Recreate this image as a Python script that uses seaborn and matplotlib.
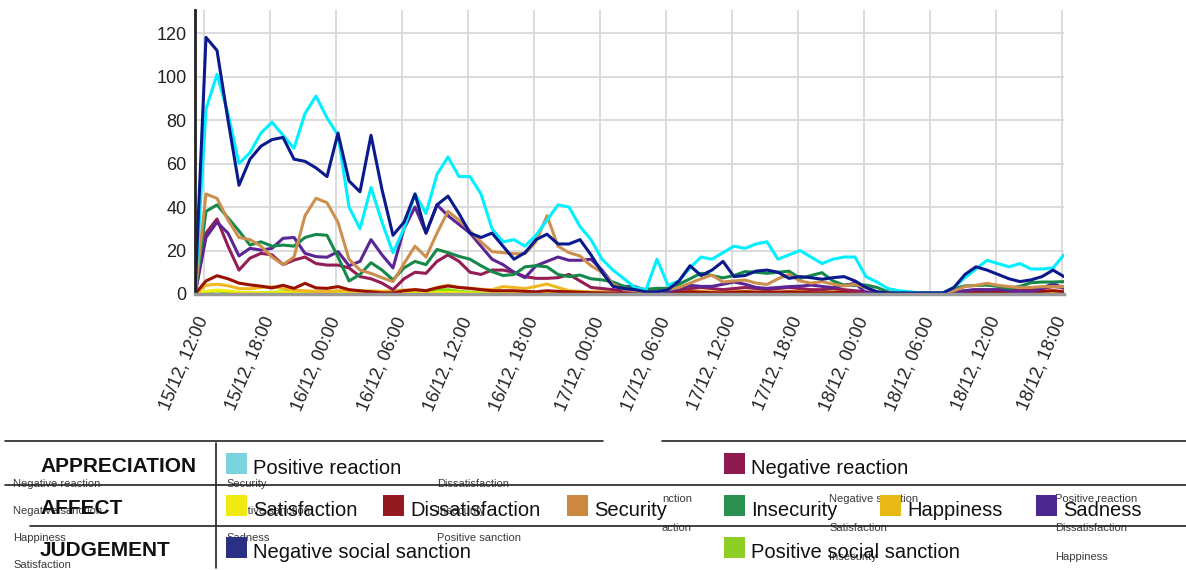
import pandas as pd
import seaborn as sns
import matplotlib.pyplot as plt
import matplotlib.dates as mdates
from matplotlib.lines import Line2D
from matplotlib.patches import Rectangle

W, H = 1186, 570

# hourly counts, first sample 15/12 11:12
times = pd.date_range('2015-12-15 11:12', periods=80, freq='h')

positive_reaction = [0, 85, 101, 83, 60, 65, 74, 79, 73, 67, 83, 91, 81, 73, 40, 30, 49, 33, 19, 30,
                     46, 37, 55, 63, 54, 54, 46, 30, 24, 25, 22, 27, 34, 41, 40, 31, 25, 16, 11, 7,
                     3, 2, 16, 4, 6, 12, 17, 16, 19, 22, 21, 23, 24, 16, 18, 20, 17, 14, 16, 17,
                     17, 8, 5.5, 2.5, 1.5, 1, 0.5, 0.5, 0.5, 3, 7.5, 11.5, 15.5, 14, 12.5, 14, 11.5, 11.5, 12, 18]
negative_social_sanction = [0, 118, 112, 80, 50, 62, 68, 71, 72, 62, 61, 58, 54, 74, 52, 47, 73, 48, 27, 33,
                            46, 28, 41, 45, 37, 28, 26, 28, 22, 16, 19, 25, 27.5, 23, 23, 25, 18, 10, 3.5, 2.5,
                            2, 1, 1, 2, 6, 13, 8.5, 11, 15, 8, 8.5, 10.5, 11, 10, 7.2, 8, 7.5, 6.8, 7.5, 8,
                            6, 3, 1, 0.5, 0.5, 0.5, 0.5, 0.5, 0.5, 3, 9, 12.5, 11, 9, 7, 5.7, 6.5, 8, 11, 8]
security = [0, 46, 44, 34, 26, 25, 22, 17, 13.5, 17, 36, 44, 42, 33, 16, 11, 9.5, 7.5, 5.7, 14,
            22, 17, 28, 38, 34, 29, 24, 19.5, 19, 18.5, 18.5, 24, 36, 22, 19, 17.5, 13, 10, 4.5, 2,
            1.5, 1, 1, 2, 3, 5, 7, 8.7, 5.5, 6, 6.4, 5, 4.4, 7, 9, 6, 5, 5.7, 4.5, 3.7,
            4.5, 3, 1, 0.5, 0.5, 0.5, 0.5, 0.5, 0.5, 1.5, 3.4, 4, 4.9, 4, 3.4, 3, 3, 3.4, 3.4, 3.4]
insecurity = [0, 38, 41, 35, 29, 22.5, 24, 22, 22.5, 22, 26, 27.4, 27, 17, 6, 9, 14.4, 11, 6.5, 12,
              15, 13.5, 20.5, 19, 17.3, 16, 13, 10.3, 8.5, 9, 12.5, 13, 12.5, 9, 8, 8.7, 7, 6.5, 5.5, 3.5,
              2, 2.2, 2.6, 2.6, 4.5, 7, 9.5, 8.5, 7.4, 8.5, 10.3, 10, 9.5, 10, 10.5, 7.2, 8.5, 9.8, 6, 4.1,
              4, 4.1, 3, 1, 0.5, 0.5, 0.5, 0.5, 0.5, 2.5, 3.7, 3.9, 4.1, 3.5, 2.6, 3.5, 5.2, 5.5, 5.5, 5.7]
negative_reaction = [0, 28, 34.5, 22, 11, 16.5, 18.7, 18, 13.5, 15.6, 17, 14, 13.3, 13.3, 12, 8, 7, 5, 2, 7,
                     10, 9.5, 15, 18, 15, 10, 9, 11, 11, 10, 8, 7.2, 7.2, 7.5, 9, 6, 3, 2.5, 2, 1.5,
                     1, 1, 1.5, 2, 2, 2.5, 3, 2.5, 2, 2.5, 3, 2.5, 2, 2.5, 3, 2.5, 2, 2, 2.5, 2,
                     1.5, 1, 0.5, 0.5, 0.5, 0.5, 0.5, 0.5, 0.5, 1, 1.5, 2, 2, 2, 2, 1.5, 2, 2.5, 3.4, 3]
sadness = [0, 26, 33, 28, 17.5, 21, 20.2, 21, 25.6, 26, 18.7, 17.2, 16.9, 19.5, 13, 15, 25, 18, 12, 30,
           40, 28, 41, 36, 32, 28, 22, 16, 13.5, 10, 7.5, 13, 15, 17, 15.5, 15.5, 16, 11, 4.5, 3.5,
           3.4, 1.5, 1, 1, 2.5, 4, 3.5, 3.5, 4.5, 5.5, 4.5, 3, 2.6, 3, 3.4, 3.6, 4.1, 3.5, 2.9, 4,
           4.9, 0.5, 0.3, 0.3, 0.3, 0.3, 0.3, 0.3, 0.3, 0.3, 1.5, 2, 1.8, 2, 1.5, 1, 1, 2.5, 4.9, 2.6]
dissatisfaction = [0, 6, 8.4, 7, 5, 4.2, 3.6, 2.8, 4, 2.6, 4.9, 2.8, 2.6, 3.4, 2, 1.5, 1, 0.5, 0.5, 1.5,
                   2, 1.5, 2.8, 3.7, 3, 2.6, 2, 1.5, 1.5, 1.5, 1.2, 1, 1.5, 1.2, 1, 0.8, 0.6, 0.5, 0.4, 0.4,
                   0.4, 0.5, 0.6, 0.5, 0.8, 1, 0.8, 0.6, 0.5, 0.8, 1, 0.8, 0.6, 0.8, 1, 0.8, 0.6, 0.5, 0.6, 0.8,
                   0.5, 0.3, 0.3, 0.3, 0.3, 0.3, 0.3, 0.3, 0.3, 0.5, 0.8, 1, 1, 0.8, 0.8, 0.8, 1, 1.2, 1.5, 1]
happiness = [0, 4, 4.5, 3.8, 2.5, 2.4, 3, 3.4, 2.5, 1.8, 1.5, 1.2, 1.2, 1.5, 1.5, 1.2, 1.5, 1.2, 1.5, 1.8,
             2, 1.5, 3, 4, 3, 2.5, 2.2, 2, 3.4, 3, 2.5, 3.5, 4.6, 3, 1.5, 1.2, 1, 1, 0.8, 0.8,
             0.8, 1, 1.2, 1, 1.2, 1.5, 1.2, 1, 1.2, 1.5, 1.2, 1, 1.2, 1, 1, 1.2, 1, 1, 1.2, 1,
             0.8, 0.5, 0.5, 0.5, 0.5, 0.5, 0.5, 0.5, 0.5, 0.8, 1, 1.2, 1.2, 1, 1, 1.2, 1, 1.2, 1.5, 1.2]
satisfaction = [0, 1.2, 1.8, 1.4, 0.8, 0.6, 0.5, 0.6, 0.8, 0.6, 0.5, 0.4, 0.4, 0.5, 0.4, 0.3, 0.4, 0.3, 0.3, 0.4,
                0.5, 0.4, 0.6, 0.8, 0.6, 0.4, 0.3, 0.3, 0.4, 0.5, 0.4, 0.5, 0.6, 0.5, 0.4, 0.3, 0.3, 0.3, 0.3, 0.3,
                0.3, 0.3, 0.4, 0.5, 0.4, 0.4, 0.5, 0.4, 0.3, 0.4, 0.5, 0.4, 0.3, 0.4, 0.4, 0.3, 0.3, 0.4, 0.3, 0.3,
                0.3, 0.2, 0.2, 0.2, 0.2, 0.2, 0.2, 0.2, 0.2, 0.3, 0.4, 0.4, 0.5, 0.4, 0.3, 0.4, 0.4, 0.5, 0.5, 0.4]
positive_social_sanction = [0, 0.8, 1.5, 0.8, 0.4, 0.3, 0.5, 0.8, 1, 1.2, 0.8, 0.5, 0.5, 0.4, 0.3, 0.3, 0.3, 0.3, 0.3, 0.5,
                            0.8, 1.2, 1.8, 2, 1.2, 0.8, 0.5, 0.4, 0.3, 0.3, 0.3, 0.3, 0.4, 0.3, 0.3, 0.3, 0.3, 0.3, 0.3, 0.3,
                            0.3, 0.4, 0.6, 0.4, 0.3, 0.3, 0.3, 0.3, 0.3, 0.3, 0.3, 0.3, 0.3, 0.3, 0.3, 0.3, 0.3, 0.3, 0.3, 0.3,
                            0.2, 0.2, 0.2, 0.2, 0.2, 0.2, 0.2, 0.2, 0.2, 0.3, 0.3, 0.3, 0.3, 0.3, 0.3, 0.3, 0.3, 0.3, 0.3, 0.3]

series = {
    'Positive social sanction': positive_social_sanction,
    'Satisfaction': satisfaction,
    'Happiness': happiness,
    'Dissatisfaction': dissatisfaction,
    'Negative reaction': negative_reaction,
    'Sadness': sadness,
    'Insecurity': insecurity,
    'Security': security,
    'Positive reaction': positive_reaction,
    'Negative social sanction': negative_social_sanction,
}
line_colors = {
    'Positive social sanction': '#80E000',
    'Satisfaction': '#F2F000',
    'Happiness': '#F0B820',
    'Dissatisfaction': '#9A1000',
    'Negative reaction': '#951D55',
    'Sadness': '#5B2595',
    'Insecurity': '#16884A',
    'Security': '#CD8F4E',
    'Positive reaction': '#00F0FF',
    'Negative social sanction': '#0A1A8C',
}
swatch_colors = {
    'Positive reaction': '#7AD3DE', 'Negative reaction': '#8F1A4F',
    'Satisfaction': '#EEEA12', 'Dissatisfaction': '#921A20', 'Security': '#CC8840',
    'Insecurity': '#2A9150', 'Happiness': '#E8B815', 'Sadness': '#4A2890',
    'Negative social sanction': '#2A3185', 'Positive social sanction': '#8DCF24',
}

df = pd.concat([pd.DataFrame({'time': times, 'count': v, 'category': k})
                for k, v in series.items()], ignore_index=True)

sns.set_style('white')
plt.rcParams['font.family'] = ['Liberation Sans', 'DejaVu Sans']

fig = plt.figure(figsize=(W / 100, H / 100), dpi=100)
ax = fig.add_axes([195 / W, 1 - 294 / H, (1064 - 195) / W, (294 - 10) / H])

sns.lineplot(data=df, x='time', y='count', hue='category', hue_order=list(series.keys()),
             palette=line_colors, linewidth=2.2, legend=False, ax=ax,
             solid_joinstyle='round', solid_capstyle='round')

ax.set_xlim(times[0], times[-1])
ax.set_ylim(0, 130.6)
ax.set_yticks(range(0, 121, 20))
ax.xaxis.set_major_locator(mdates.HourLocator(byhour=[0, 6, 12, 18]))
ax.xaxis.set_major_formatter(mdates.DateFormatter('%d/%m, %H:%M'))
ax.grid(True, color='#D6D6D6', linewidth=1.2)
ax.set_axisbelow(True)
ax.set_xlabel('')
ax.set_ylabel('')
ax.tick_params(axis='y', length=0, pad=6, labelsize=13, colors='#222222')
ax.tick_params(axis='x', length=0, pad=17, labelsize=13, colors='#222222')
for lab in ax.get_xticklabels():
    lab.set_rotation(67)
    lab.set_ha('right')
    lab.set_va('center')
    lab.set_rotation_mode('anchor')
for s in ['top', 'right']:
    ax.spines[s].set_visible(False)
ax.spines['left'].set_color('#222222')
ax.spines['left'].set_linewidth(2)
ax.spines['bottom'].set_color('#999999')
ax.spines['bottom'].set_linewidth(2.5)


def fx(x):
    return x / W


def fy(y):
    return 1 - y / H


def hline(x0, x1, y):
    fig.add_artist(Line2D([fx(x0), fx(x1)], [fy(y), fy(y)], color='#222222', lw=1.2))


# table frame of the legend
hline(5, 603, 441)
hline(662, 1186, 441)
hline(5, 1186, 485)
hline(30, 1186, 526)
fig.add_artist(Line2D([fx(216), fx(216)], [fy(443), fy(568)], color='#222222', lw=1.2))

# faint leftover labels behind the legend
ghost = [
    (13, 484, 'Negative reaction'), (226, 484, 'Security'), (437, 484, 'Dissatisfaction'),
    (13, 511, 'Negative sanction'), (226, 511, 'Positive sanction'), (437, 511, 'Insecurity'),
    (13, 538, 'Happiness'), (226, 538, 'Sadness'), (437, 538, 'Positive sanction'),
    (13, 565, 'Satisfaction'),
    (662, 499, 'nction'), (829, 499, 'Negative sanction'), (1055, 499, 'Positive reaction'),
    (662, 528, 'action'), (829, 528, 'Satisfaction'), (1055, 528, 'Dissatisfaction'),
    (829, 557, 'Insecurity'), (1055, 557, 'Happiness'),
]
for x, y, t in ghost:
    fig.text(fx(x), fy(y), t, fontsize=8, color='#3A3A3A', ha='left', va='center', zorder=1)

headings = [(466, 'APPRECIATION'), (508, 'AFFECT'), (550, 'JUDGEMENT')]
for y, t in headings:
    fig.text(fx(40), fy(y), t, fontsize=15, fontweight='bold', color='#111111',
             ha='left', va='center', zorder=3)

legend_rows = [
    (464, [(226, 'Positive reaction'), (724, 'Negative reaction')]),
    (506, [(226, 'Satisfaction'), (383, 'Dissatisfaction'), (567, 'Security'),
           (724, 'Insecurity'), (880, 'Happiness'), (1036, 'Sadness')]),
    (548, [(226, 'Negative social sanction'), (724, 'Positive social sanction')]),
]
for y, items in legend_rows:
    for x, name in items:
        fig.add_artist(Rectangle((fx(x), fy(y + 10)), 21 / W, 21 / H,
                                 facecolor=swatch_colors[name], edgecolor='none', zorder=2))
        fig.text(fx(x + 27), fy(y + 4), name, fontsize=14.5, color='#111111',
                 ha='left', va='center', zorder=3)

fig.savefig('out.png', dpi=100)
